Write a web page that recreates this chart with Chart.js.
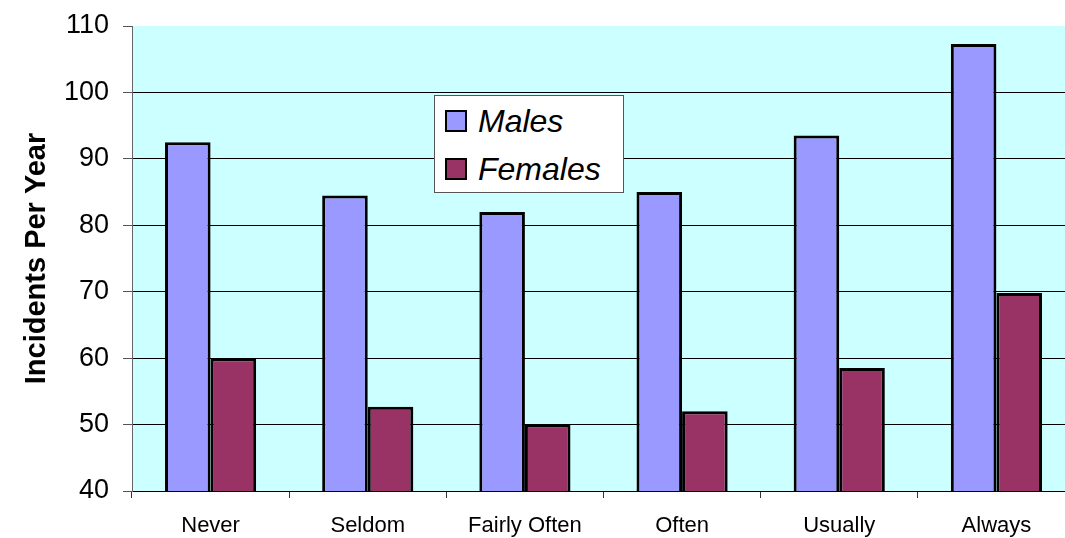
<!DOCTYPE html>
<html>
<head>
<meta charset="utf-8">
<script src="https://cdn.jsdelivr.net/npm/chart.js@4/dist/chart.umd.min.js"></script>
<style>
  html, body { margin: 0; padding: 0; background: #fff; overflow: hidden; width: 1065px; height: 538px; }
  #wrap { position: absolute; left: 0; top: 0; width: 1075px; height: 538px; }
  #legend { position: absolute; left: 434px; top: 95px; width: 188px; height: 96px; background: #fff; border: 1px solid #555; font-family: "Liberation Sans", Arial, sans-serif; }
  .sw { position: absolute; left: 10px; width: 18px; height: 18px; border: 2px solid #000; }
  .lt { position: absolute; left: 43px; font-size: 32px; line-height: 32px; font-style: italic; color: #000; white-space: nowrap; }
</style>
</head>
<body>
<div id="wrap"><canvas id="c" width="1075" height="538"></canvas></div>
<div id="legend">
  <div class="sw" style="top:14px;background:#9999FF"></div><div class="lt" style="top:9px">Males</div>
  <div class="sw" style="top:62px;background:#993366"></div><div class="lt" style="top:57px">Females</div>
</div>
<script>
const categories = ["Never", "Seldom", "Fairly Often", "Often", "Usually", "Always"];
const malesValues = [92.5, 84.5, 82.0, 85.0, 93.5, 107.3];
const femalesValues = [60.0, 52.7, 50.0, 52.0, 58.5, 69.8];
const seriesNames = ["Males", "Females"];
const yTickValues = [40, 50, 60, 70, 80, 90, 100, 110];

const bgPlugin = {
  id: 'plotBg',
  beforeDraw(chart) {
    const a = chart.chartArea, ctx = chart.ctx;
    ctx.save();
    ctx.fillStyle = '#CCFFFF';
    ctx.fillRect(a.left, a.top, a.right - a.left, a.bottom - a.top);
    ctx.restore();
  }
};

new Chart(document.getElementById('c'), {
  type: 'bar',
  data: {
    labels: categories,
    datasets: [
      { label: seriesNames[0], data: malesValues, backgroundColor: '#9999FF', borderColor: '#000', borderWidth: 3, borderSkipped: false },
      { label: seriesNames[1], data: femalesValues, backgroundColor: '#993366', borderColor: '#000', borderWidth: 3, borderSkipped: false }
    ]
  },
  options: {
    responsive: false,
    animation: false,
    events: [],
    layout: { padding: { left: 0, top: 26, right: 0, bottom: 0 } },
    datasets: { bar: { categoryPercentage: 0.58, barPercentage: 1.0 } },
    plugins: { legend: { display: false }, tooltip: { enabled: false }, title: { display: false } },
    scales: {
      x: {
        offset: true,
        afterFit(s) { s.height = 47; s.paddingLeft = 0; s.paddingRight = 0; },
        grid: { drawOnChartArea: false, drawTicks: true, tickLength: 7, color: '#333', offset: true },
        border: { display: true, color: '#000', width: 1 },
        ticks: { color: '#000', padding: 15, font: { family: 'Liberation Sans', size: 22 }, maxRotation: 0 }
      },
      y: {
        min: 40, max: 110,
        afterFit(s) { s.width = 132; s.paddingTop = 0; s.paddingBottom = 0; },
        afterBuildTicks(s) { s.ticks = yTickValues.map(v => ({ value: v })); },
        grid: {
          color: ctx => (ctx.tick && ctx.tick.value === 110 ? 'rgba(0,0,0,0)' : '#000'),
          tickColor: '#555',
          tickLength: 9,
          lineWidth: 1
        },
        border: { display: true, color: '#666', width: 1 },
        ticks: { color: '#000', padding: 14, font: { family: 'Liberation Sans', size: 27 } },
        title: { display: true, text: 'Incidents Per Year', color: '#000', padding: { top: 20, bottom: 0 }, font: { family: 'Liberation Sans', size: 29, weight: 'bold' } }
      }
    }
  },
  plugins: [bgPlugin]
});
</script>
</body>
</html>
